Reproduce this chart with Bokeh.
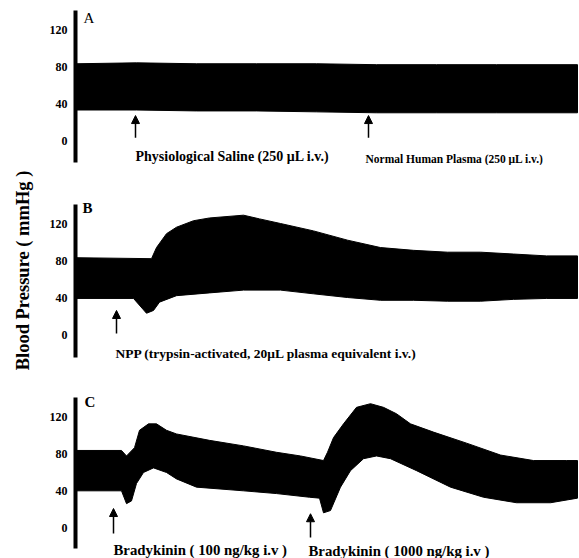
from bokeh.plotting import figure
from bokeh.models import Range1d, FixedTicker, Arrow, NormalHead
from bokeh.layouts import column
from bokeh.core.properties import value
from bokeh.embed import file_html
from bokeh.resources import INLINE

# ---------------- data (time in s, pressure in mmHg) ----------------
TICKS = [0, 40, 80, 120]

# Panel A
a_up_t = [0, 60, 120, 180, 240, 300, 360, 420, 501]
a_up_v = [83, 84, 83, 83, 83, 82, 82, 82, 82]
a_lo_t = [0, 60, 120, 180, 240, 300, 360, 420, 501]
a_lo_v = [33, 33, 32, 32, 31, 30, 30, 30, 30]
a_events = [59, 292]
a_labels = ["Physiological Saline (250 \u03bcL i.v.)", "Normal Human Plasma (250 \u03bcL i.v.)"]

# Panel B
b_up_t = [0, 75, 80, 90, 100, 117, 133, 167, 183, 204, 237, 271, 304, 337, 371, 404, 437, 470, 501]
b_up_v = [83, 82, 94, 109, 116, 123, 126, 129, 125, 120, 112, 102, 94, 91, 89, 89, 87, 85, 85]
b_lo_t = [0, 57, 70, 77, 83, 100, 133, 167, 204, 237, 271, 304, 337, 371, 404, 437, 470, 501]
b_lo_v = [39, 39, 23, 26, 35, 42, 45, 48, 48, 44, 40, 37, 37, 36, 36, 38, 39, 39]
b_events = [40]
b_labels = ["NPP (trypsin-activated, 20\u03bcL plasma equivalent i.v.)"]

# Panel C
c_up_t = [0, 45, 50, 58, 63, 72, 80, 90, 100, 133, 167, 200, 224, 247, 251, 257, 267, 280,
          294, 307, 320, 334, 357, 390, 424, 457, 490, 501]
c_up_v = [84, 84, 78, 87, 106, 113, 113, 106, 102, 95, 89, 82, 78, 73, 82, 98, 113, 131,
          135, 131, 124, 113, 104, 92, 79, 73, 73, 73]
c_lo_t = [0, 45, 50, 55, 60, 67, 77, 90, 100, 120, 167, 200, 233, 243, 247, 254, 264, 274,
          287, 300, 314, 340, 374, 407, 440, 474, 501]
c_lo_v = [40, 40, 26, 29, 48, 60, 65, 60, 53, 44, 40, 37, 33, 32, 16, 18.5, 44, 62,
          75, 78, 75, 62, 44, 33, 27, 27, 32]
c_events = [37, 234]
c_labels = ["Bradykinin ( 100 ng/kg i.v )", "Bradykinin ( 1000 ng/kg i.v )"]

SERIF = "Liberation Serif"


def make_panel(height, yr, bounds, border_bottom=0):
    p = figure(width=579, height=height, x_range=Range1d(-1, 503), y_range=Range1d(*yr),
               x_axis_type=None, output_backend="svg", toolbar_location=None,
               min_border_left=75, min_border_right=0, min_border_top=0,
               min_border_bottom=border_bottom)
    p.grid.visible = False
    p.outline_line_color = None
    p.background_fill_color = "white"
    ax = p.yaxis[0]
    ax.ticker = FixedTicker(ticks=TICKS)
    ax.bounds = bounds
    ax.axis_line_width = 4
    ax.axis_line_color = "black"
    ax.major_tick_line_color = None
    ax.minor_tick_line_color = None
    ax.major_tick_out = 0
    ax.major_tick_in = 0
    ax.minor_tick_out = 0
    ax.minor_tick_in = 0
    ax.major_label_text_font = SERIF
    ax.major_label_text_font_style = "bold"
    ax.major_label_text_font_size = "12px"
    ax.major_label_text_color = "black"
    ax.major_label_standoff = 8
    return p


def trace(p, up_t, up_v, lo_t, lo_v):
    xs = list(up_t) + list(lo_t)[::-1]
    ys = list(up_v) + list(lo_v)[::-1]
    p.patch(xs, ys, fill_color="black", line_color="black", line_width=1)


def arrows(p, events, y0, y1):
    for t in events:
        p.add_layout(Arrow(end=NormalHead(size=8, fill_color="black", line_color="black"),
                           x_start=t, y_start=y0, x_end=t, y_end=y1,
                           line_width=1.5, line_color="black"))


def texts(p, xs, ys, labels, size, style="bold"):
    p.text(x=xs, y=ys, text=labels, text_font=value(SERIF), text_font_style=style,
           text_font_size=size, text_baseline="middle", text_align="left", text_color="black")


# Panel A
pA = make_panel(165, (-27.0, 151.4), (-24, 140.5))
trace(pA, a_up_t, a_up_v, a_lo_t, a_lo_v)
arrows(pA, a_events, 3, 27)
texts(pA, [a_events[0]], [-17.3], [a_labels[0]], "14px")
texts(pA, [a_events[1] - 3], [-19.5], [a_labels[1]], "11.5px")
texts(pA, [7], [132], ["A"], "15px", "normal")

# Panel B
pB = make_panel(227, (-44.3, 182.7), (-25, 140.5), border_bottom=17)
trace(pB, b_up_t, b_up_v, b_lo_t, b_lo_v)
arrows(pB, b_events, 1, 26)
texts(pB, [b_events[0] - 1], [-20.5], b_labels, "13.5px")
texts(pB, [6], [137], ["B"], "15px")
pB.yaxis[0].axis_label = "Blood Pressure ( mmHg )"
pB.yaxis[0].axis_label_text_font = SERIF
pB.yaxis[0].axis_label_text_font_style = "bold"
pB.yaxis[0].axis_label_text_font_size = "18.5px"
pB.yaxis[0].axis_label_text_color = "black"
pB.yaxis[0].axis_label_standoff = 14

# Panel C
pC = make_panel(166, (-33.8, 147.2), (-23, 142))
trace(pC, c_up_t, c_up_v, c_lo_t, c_lo_v)
arrows(pC, [c_events[0]], -6.5, 20.7)
arrows(pC, [c_events[1]], -11, 15)
texts(pC, [c_events[0]], [-25], [c_labels[0]], "14.8px")
texts(pC, [c_events[1] - 2], [-26], [c_labels[1]], "14.8px")
texts(pC, [8], [137], ["C"], "15px")

layout = column(pA, pB, pC, spacing=0)
open("out.html", "w").write(file_html(layout, INLINE))
